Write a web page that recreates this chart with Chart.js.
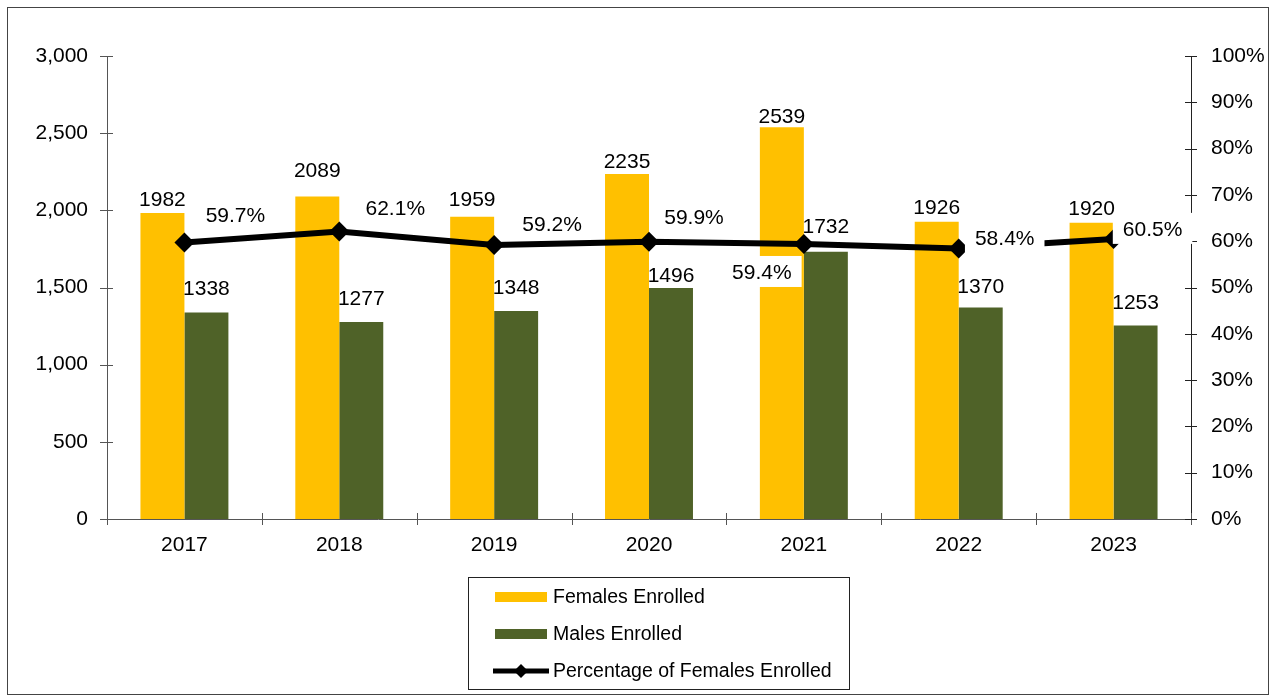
<!DOCTYPE html>
<html>
<head>
<meta charset="utf-8">
<script src="https://cdn.jsdelivr.net/npm/chart.js@4.4.1/dist/chart.umd.min.js"></script>
<style>
  html, body { margin: 0; padding: 0; background: #fff; }
</style>
</head>
<body>
<canvas id="graficoMatricula" width="1273" height="697"></canvas>
<script>
// datos
const years = ['2017', '2018', '2019', '2020', '2021', '2022', '2023'];
const femalesEnrolled = [1982, 2089, 1959, 2235, 2539, 1926, 1920];
const malesEnrolled = [1338, 1277, 1348, 1496, 1732, 1370, 1253];
const pctFemales = [59.7, 62.1, 59.2, 59.9, 59.4, 58.4, 60.5];
const leftTicks = [0, 500, 1000, 1500, 2000, 2500, 3000];
const rightTicks = [0, 10, 20, 30, 40, 50, 60, 70, 80, 90, 100];

const FONT = "'Liberation Sans', Arial, sans-serif";

// desplazamiento manual de etiquetas (como en el original de Excel)
const pctLabelShift = [[51, -26], [56, -22], [58, -20], [45, -23], [-42, 29], [46, -9], [39, -9]];
const femLabelLift = [13, 25, 16, 12, 10, 14, 13];
const maleLabelLift = [23, 23, 23, 12, 24, 20, 22];

const extras = {
  id: 'extras',
  beforeDraw(chart) {
    const ctx = chart.ctx;
    ctx.save();
    ctx.fillStyle = '#fff';
    ctx.fillRect(0, 0, chart.width, chart.height);
    ctx.restore();
  },
  afterDraw(chart) {
    const ctx = chart.ctx;
    const xs = chart.scales.x, yl = chart.scales.y, yr = chart.scales.y1;
    ctx.save();
    // marcas de los ejes que cruzan la linea
    ctx.lineWidth = 1;
    ctx.strokeStyle = '#555';
    const half = (xs.getPixelForValue(1) - xs.getPixelForValue(0)) / 2;
    for (let i = 0; i <= years.length; i++) {
      const px = Math.round(xs.getPixelForValue(i) - half) + 0.5;
      ctx.beginPath();
      ctx.moveTo(px, yl.bottom - 6);
      ctx.lineTo(px, yl.bottom + 6);
      ctx.stroke();
    }
    leftTicks.forEach(v => {
      const py = Math.round(yl.getPixelForValue(v)) + 0.5;
      ctx.beginPath();
      ctx.moveTo(yl.right - 7, py);
      ctx.lineTo(yl.right + 6, py);
      ctx.stroke();
    });
    ctx.strokeStyle = '#222';
    rightTicks.forEach(v => {
      const py = Math.round(yr.getPixelForValue(v)) + 0.5;
      ctx.beginPath();
      ctx.moveTo(yr.left - 6, py);
      ctx.lineTo(yr.left + 6, py);
      ctx.stroke();
    });

    // etiquetas de datos
    ctx.font = '21px ' + FONT;
    ctx.fillStyle = '#000';
    ctx.textAlign = 'center';
    ctx.textBaseline = 'middle';
    const fem = chart.getDatasetMeta(0).data;
    const mal = chart.getDatasetMeta(1).data;
    fem.forEach((el, i) => {
      ctx.fillText(String(femalesEnrolled[i]), el.x, el.y - femLabelLift[i]);
    });
    mal.forEach((el, i) => {
      ctx.fillText(String(malesEnrolled[i]), el.x, el.y - maleLabelLift[i]);
    });
    const pts = chart.getDatasetMeta(2).data;
    pts.forEach((el, i) => {
      const txt = pctFemales[i].toFixed(1) + '%';
      const cx = el.x + pctLabelShift[i][0];
      const cy = el.y + pctLabelShift[i][1];
      const w = ctx.measureText(txt).width + 20;
      ctx.fillStyle = '#fff';
      ctx.fillRect(cx - w / 2, cy - 17, w, 31);
      ctx.fillStyle = '#000';
      ctx.fillText(txt, cx, cy);
    });

    // leyenda en recuadro
    const lx = 468, ly = 577, lw = 381, lh = 112;
    ctx.strokeStyle = '#222';
    ctx.lineWidth = 1;
    ctx.strokeRect(lx + 0.5, ly + 0.5, lw, lh);
    const rows = [597, 634, 671];
    ctx.textAlign = 'left';
    ctx.font = '19.5px ' + FONT;
    chart.data.datasets.forEach((ds, i) => {
      const ry = rows[i];
      if (ds.type === 'line') {
        ctx.strokeStyle = ds.borderColor;
        ctx.lineWidth = 5;
        ctx.beginPath();
        ctx.moveTo(493, ry);
        ctx.lineTo(549, ry);
        ctx.stroke();
        ctx.fillStyle = ds.borderColor;
        ctx.beginPath();
        ctx.moveTo(521, ry - 7);
        ctx.lineTo(528, ry);
        ctx.lineTo(521, ry + 7);
        ctx.lineTo(514, ry);
        ctx.closePath();
        ctx.fill();
      } else {
        ctx.fillStyle = ds.backgroundColor;
        ctx.fillRect(495, ry - 5, 52, 10);
      }
      ctx.fillStyle = '#000';
      ctx.fillText(ds.label, 553, ry + 1);
    });

    // marco exterior
    ctx.lineWidth = 1;
    ctx.strokeStyle = '#444';
    ctx.strokeRect(7.5, 7.5, 1261, 687);
    ctx.restore();
  }
};

new Chart(document.getElementById('graficoMatricula'), {
  type: 'bar',
  data: {
    labels: years,
    datasets: [
      {
        label: 'Females Enrolled',
        data: femalesEnrolled,
        backgroundColor: '#FFC000',
        yAxisID: 'y',
        order: 2,
        categoryPercentage: 0.568,
        barPercentage: 1
      },
      {
        label: 'Males Enrolled',
        data: malesEnrolled,
        backgroundColor: '#4F6228',
        yAxisID: 'y',
        order: 2,
        categoryPercentage: 0.568,
        barPercentage: 1
      },
      {
        type: 'line',
        label: 'Percentage of Females Enrolled',
        data: pctFemales,
        borderColor: '#000',
        backgroundColor: '#000',
        borderWidth: 6,
        tension: 0,
        pointStyle: 'rectRot',
        pointRadius: 10,
        pointBackgroundColor: '#000',
        pointBorderWidth: 0,
        yAxisID: 'y1',
        order: 1
      }
    ]
  },
  options: {
    responsive: false,
    animation: false,
    layout: { padding: { top: 56, bottom: 138, left: 0, right: 0 } },
    plugins: {
      legend: { display: false },
      tooltip: { enabled: false }
    },
    scales: {
      x: {
        grid: { display: false },
        border: { display: true, color: '#555', width: 1 },
        ticks: { color: '#000', font: { family: FONT, size: 21 }, padding: 6 },
        afterFit(scale) { scale.height = 40; }
      },
      y: {
        position: 'left',
        min: 0,
        max: 3000,
        grid: { display: false },
        border: { display: true, color: '#555', width: 1 },
        ticks: {
          stepSize: 500,
          color: '#000',
          font: { family: FONT, size: 21 },
          padding: 11,
          callback: v => v.toLocaleString('en-US')
        },
        afterFit(scale) { scale.width = 107; }
      },
      y1: {
        position: 'right',
        min: 0,
        max: 100,
        grid: { display: false },
        border: { display: true, color: '#222', width: 1 },
        ticks: {
          stepSize: 10,
          color: '#000',
          font: { family: FONT, size: 21 },
          padding: 12,
          callback: v => v + '%'
        },
        afterFit(scale) { scale.width = 82; }
      }
    }
  },
  plugins: [extras]
});
</script>
</body>
</html>
